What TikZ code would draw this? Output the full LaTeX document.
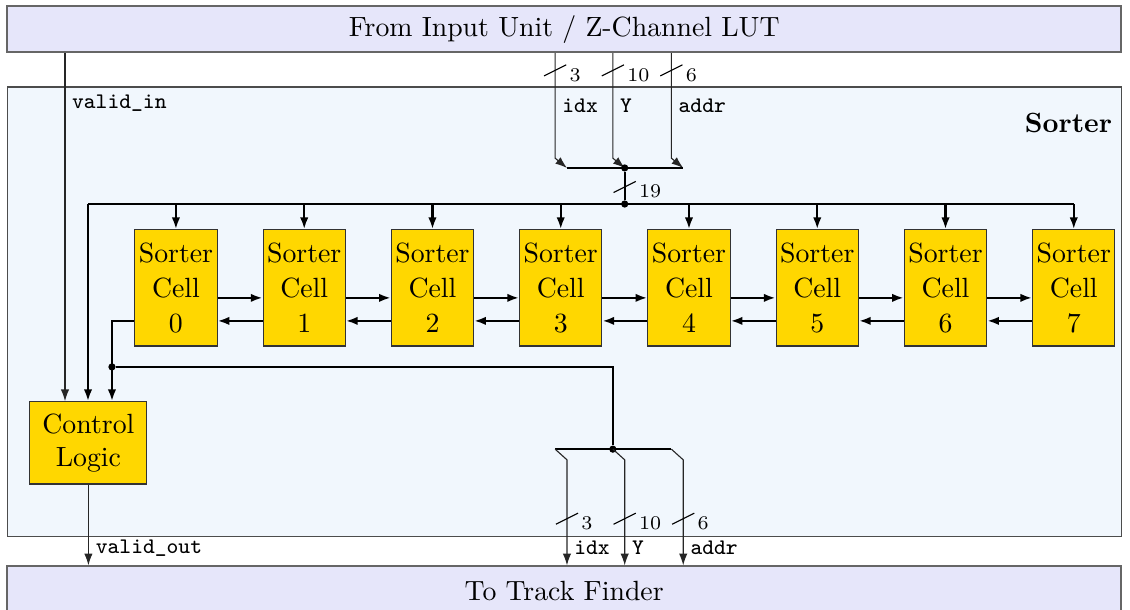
\documentclass[tikz,border=0pt]{standalone}
\usepackage{amsmath, amssymb}
\usetikzlibrary{positioning, arrows.meta}

\definecolor{unitblue}{RGB}{230,230,250}
\definecolor{sorterbg}{RGB}{241,247,253}
\definecolor{cellgold}{RGB}{255,215,0}

\tikzset{
  unitbar/.style={draw=black!60, semithick, fill=unitblue, minimum width=14.09cm, minimum height=0.58cm, inner sep=0pt},
  sorterbox/.style={draw=black!70, fill=sorterbg, minimum width=14.09cm, minimum height=5.69cm, inner sep=0pt},
  cellbox/.style={draw=black!80, fill=cellgold, minimum width=1.04cm, minimum height=1.47cm, align=center, inner sep=0pt},
  tip/.style={-{Latex[length=4.2pt, width=3pt]}},
  bus/.style={thick, tip},
  sig/.style={black!85, tip},
  lbl/.style={font=\ttfamily\footnotesize, anchor=west, inner sep=1pt},
  buslbl/.style={font=\scriptsize, anchor=north west, inner sep=1pt},
  dot/.style={circle, fill, inner sep=0pt, minimum size=2.6pt}
}

\begin{document}
\begin{tikzpicture}
\clip (0,0) rectangle (14.29,-7.71);

% frame
\node[unitbar] (input) at (7.135,-0.37) {From Input Unit / Z-Channel LUT};
\node[sorterbox] (sorter) at (7.135,-3.945) {};
\node[font=\bfseries, anchor=east, inner sep=0pt] (sortlbl) at (14.07,-1.56) {Sorter};
\node[unitbar, minimum height=0.64cm] (finder) at (7.135,-7.48) {To Track Finder};

% cells
\foreach \i in {0,...,7}
  \node[cellbox, font=\linespread{1.05}\selectfont] (cell\i) at (2.225+1.622*\i,-3.64) {Sorter\\Cell\\\i};
\foreach \i [count=\j] in {0,...,6} {
  \draw[bus] ([yshift=-0.127cm]cell\i.east) -- ([yshift=-0.127cm]cell\j.west);
  \draw[bus] ([yshift=-0.418cm]cell\j.west) -- ([yshift=-0.418cm]cell\i.east);
}
\node[cellbox, minimum width=1.48cm, minimum height=1.04cm] (ctrl) at (1.118,-5.60) {Control\\Logic};

% inputs
\foreach \x/\n/\w/\s in {7.02/idx/3/a, 7.75/Y/10/b, 8.49/addr/6/c} {
  \draw[sig] (\x,0 |- input.south) -- (\x,-2.0) -- (\x+0.15,-2.124);
  \draw (\x-0.14,-0.96) -- (\x+0.14,-0.82) node[buslbl] (win\s) {\w};
  \node[lbl] (lin\s) at (\x+0.05,-1.34) {\n};
}
\draw[thick] (7.17,-2.124) -- (8.64,-2.124);
\node[dot] (merge) at (7.90,-2.124) {};
\node[dot] (busdot) at (7.90,-2.58) {};
\draw[thick] (merge) -- (busdot);
\draw (7.76,-2.435) -- (8.04,-2.295) node[buslbl] (wbus) {19};

% broadcast bus
\coordinate (busL) at (1.113,-2.58);
\draw[thick] (busL) -- (cell7.north |- busL);
\foreach \i in {0,...,7}
  \draw[bus] (cell\i.north |- busL) -- (cell\i.north);
\draw[bus] (busL) -- (busL |- ctrl.north);

% valid in
\draw[sig] (0.822,0 |- input.south) -- (0.822,0 |- ctrl.north);
\node[lbl] (lvalin) at (0.87,-1.30) {valid\_in};

% feedback from cell 0
\draw[bus] ([yshift=-0.418cm]cell0.west) -| (1.416,0 |- ctrl.north);
\node[dot] (fbk) at (1.416,-4.64) {};
\node[dot] (outdot) at (7.75,-5.68) {};
\draw[thick] (fbk) -| (outdot);
\draw[thick] (7.02,-5.68) -- (8.49,-5.68);

% outputs
\foreach \x/\n/\w/\s in {7.02/idx/3/a, 7.75/Y/10/b, 8.49/addr/6/c} {
  \draw[sig] (\x,-5.68) -- (\x+0.15,-5.815) -- (\x+0.15,0 |- finder.north);
  \draw (\x+0.01,-6.63) -- (\x+0.29,-6.49) node[buslbl] (wout\s) {\w};
  \node[lbl] (lout\s) at (\x+0.2,-6.93) {\n};
}
\draw[sig] (ctrl.south) -- (ctrl.south |- finder.north);
\node[lbl] (lvalout) at (1.17,-6.93) {valid\_out};
\end{tikzpicture}
\end{document}
